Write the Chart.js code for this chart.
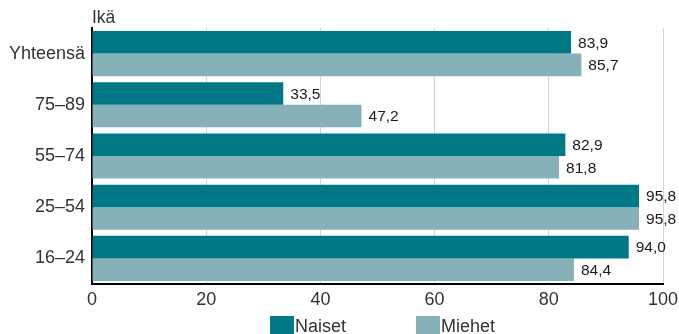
<!DOCTYPE html>
<html><head><meta charset="utf-8">
<script src="https://cdn.jsdelivr.net/npm/chart.js@4/dist/chart.umd.min.js"></script>
<style>html,body{margin:0;padding:0;background:#fff}#w{width:679px;height:334px}</style>
</head><body><div id="w"><canvas id="c"></canvas></div>
<script>
const categories = ["Yhteensä", "75–89", "55–74", "25–54", "16–24"];
const naiset = [83.9, 33.5, 82.9, 95.8, 94.0];
const miehet = [85.7, 47.2, 81.8, 95.8, 84.4];
const seriesNames = ["Naiset", "Miehet"];
const xTicks = [0, 20, 40, 60, 80, 100];
const axisTitle = "Ikä";
const colors = ["#007886", "#87b1b8"];
const FONT = "'Liberation Sans', Arial, Helvetica, sans-serif";

const fmt = v => v.toFixed(1).replace('.', ',');

const labelPlugin = {
  id: 'vals',
  afterDatasetsDraw(chart) {
    const ctx = chart.ctx;
    ctx.save();
    ctx.font = "15.5px " + FONT;
    ctx.fillStyle = "#1a1a1a";
    ctx.textBaseline = "middle";
    ctx.textAlign = "left";
    chart.data.datasets.forEach((ds, i) => {
      chart.getDatasetMeta(i).data.forEach((bar, j) => {
        ctx.fillText(fmt(ds.data[j]), bar.x + 7, bar.y + 1);
      });
    });
    // axis title
    ctx.font = "17.5px " + FONT;
    ctx.fillStyle = "#333";
    ctx.textBaseline = "alphabetic";
    ctx.fillText(axisTitle, chart.chartArea.left, 23);
    // legend
    const items = [{x: 270}, {x: 416}];
    ctx.font = "18px " + FONT;
    items.forEach((it, i) => {
      ctx.fillStyle = colors[i];
      ctx.fillRect(it.x, 316, 24, 18);
      ctx.fillStyle = "#333";
      ctx.fillText(seriesNames[i], it.x + 25, 332);
    });
    ctx.restore();
  }
};

new Chart(document.getElementById('c'), {
  type: 'bar',
  data: {
    labels: categories,
    datasets: [
      { label: seriesNames[0], data: naiset, backgroundColor: colors[0], categoryPercentage: 0.88, barPercentage: 1 },
      { label: seriesNames[1], data: miehet, backgroundColor: colors[1], categoryPercentage: 0.88, barPercentage: 1 }
    ]
  },
  options: {
    indexAxis: 'y',
    responsive: true,
    maintainAspectRatio: false,
    animation: false,
    layout: { padding: { top: 28, right: 16, bottom: 0, left: 0 } },
    plugins: { legend: { display: false }, tooltip: { enabled: false } },
    scales: {
      x: {
        min: 0, max: 100,
        afterBuildTicks: s => { s.ticks = xTicks.map(v => ({ value: v })); },
        afterFit: s => { s.height = 50; s.paddingRight = 0; },
        grid: { color: "#d4d4d4", lineWidth: 1, drawTicks: false },
        border: { color: "#000", width: 2 },
        ticks: { font: { size: 18, family: FONT }, color: "#333", padding: 5 }
      },
      y: {
        afterFit: s => { s.width = 92; },
        grid: { display: false, drawTicks: false },
        border: { color: "#000", width: 2 },
        ticks: { font: { size: 18, family: FONT }, color: "#333", padding: 7 }
      }
    }
  },
  plugins: [labelPlugin]
});
</script>
</body></html>
